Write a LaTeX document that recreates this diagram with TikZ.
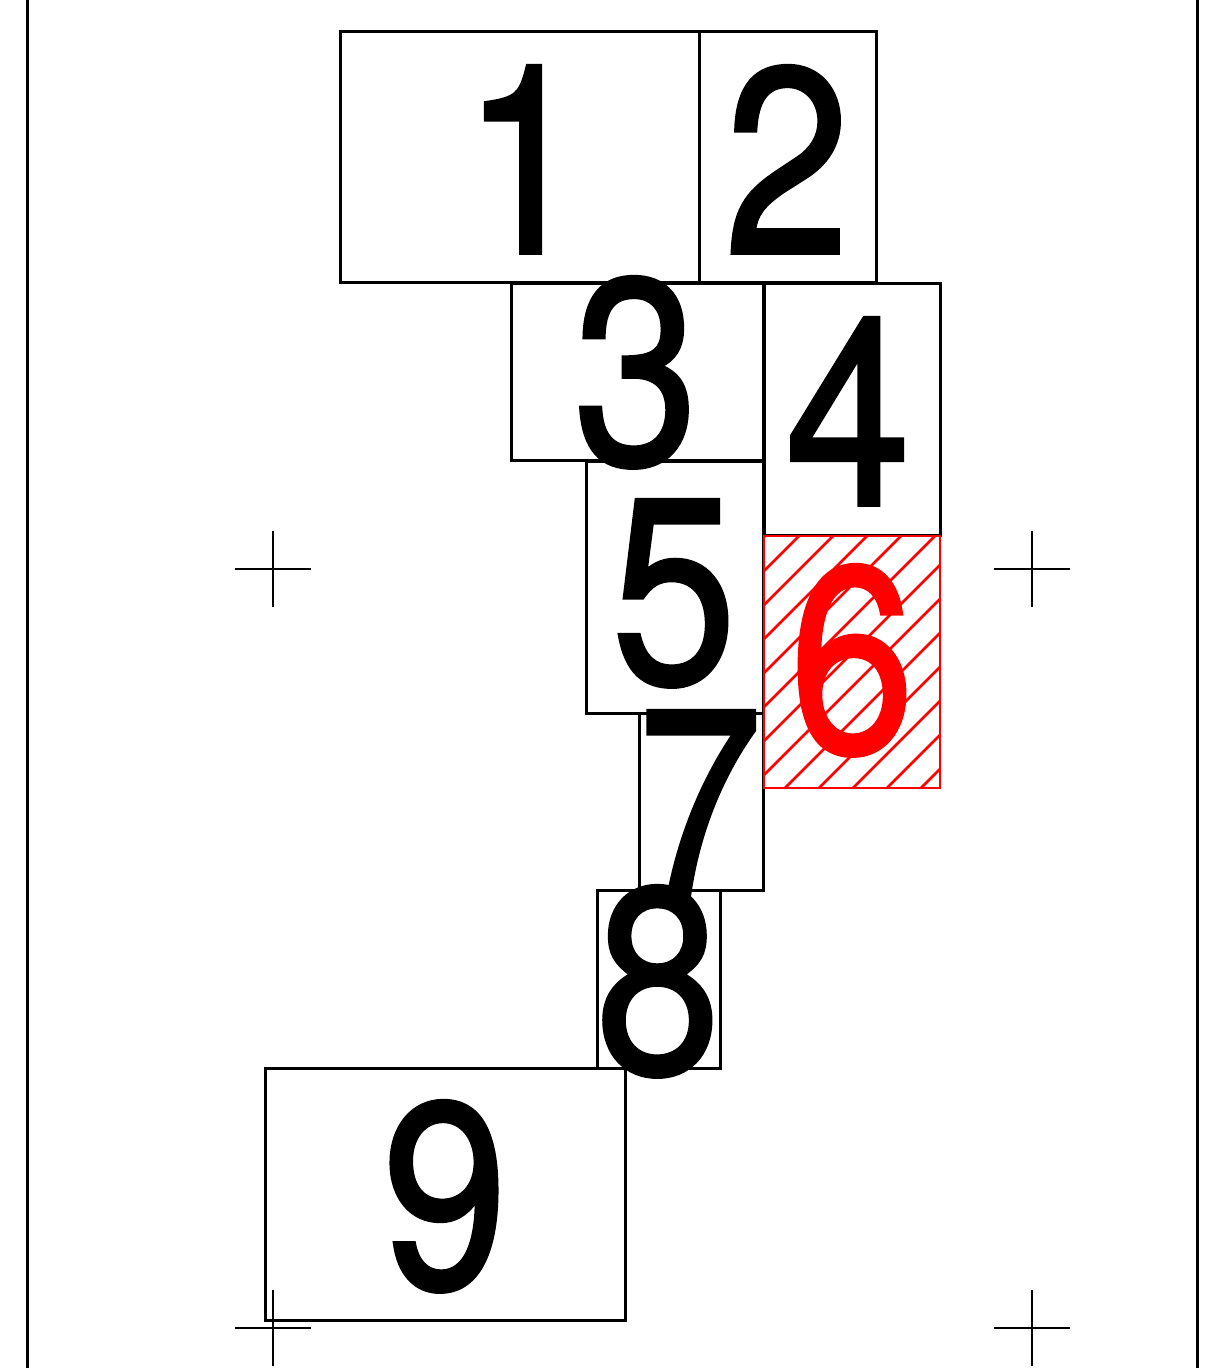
\documentclass[tikz,border=0pt]{standalone}
\usepackage{graphicx}
\usepackage{fontspec}
\setmainfont{TeX Gyre Heros}
\newfontfamily\digfont[FakeBold=1.5]{TeX Gyre Heros}
\newcommand{\dg}[1]{\scalebox{0.85}[1]{#1}}
\begin{document}
\begin{tikzpicture}[x=0.5pt,y=-0.5pt,
  boxframe/.style={draw=black,line width=1.5pt,inner sep=0pt,outer sep=0pt,line join=miter},
  redframe/.style={draw=red,line width=1.4pt,inner sep=0pt,outer sep=0pt},
  digit/.style={inner sep=0pt,outer sep=0pt,anchor=base,font=\digfont\fontsize{132}{140}\selectfont},
  rail/.style={line width=1.5pt},
  crossarm/.style={line width=0.7pt},
  hatchline/.style={draw=red,line width=1.3pt}]
\useasboundingbox (0,0) rectangle (1214,1368);
% outer rails
\coordinate (lt) at (27,0); \coordinate (lb) at (27,1368);
\coordinate (rt) at (1197,0); \coordinate (rb) at (1197,1368);
\draw[rail] (lt) -- (lb);
\draw[rail] (rt) -- (rb);
% crosshair marks
\foreach \n/\cx/\cy in {ca/273/569, cb/1032/569, cc/273/1328, cd/1032/1328}{
  \coordinate (\n) at (\cx,\cy);
  \draw[crossarm] ([xshift=-19pt]\n) -- ([xshift=19pt]\n);
  \draw[crossarm] ([yshift=19pt]\n) -- ([yshift=-19pt]\n);
}
% boxes
\draw[boxframe] (340,32) rectangle (699,283);
\draw[boxframe] (699,32) rectangle (876,283);
\draw[boxframe] (511,284) rectangle (763,461);
\draw[boxframe] (764,284) rectangle (940,535);
\draw[boxframe] (586,462) rectangle (763,713);
\draw[boxframe] (639,713) rectangle (763,890);
\draw[boxframe] (597,890) rectangle (720,1068);
\draw[boxframe] (265,1068) rectangle (625,1320);
% hatched box 6
\begin{scope}
  \clip (764,536) rectangle (940,788);
  \foreach \k in {0,...,12}{
    \pgfmathsetmacro{\c}{1301+34*\k}
    \draw[hatchline] (\c-480,480) -- (\c-840,840);
  }
\end{scope}
\draw[redframe] (764,536) rectangle (940,788);
% digits
\node[digit] (d1) at (525,253) {\dg{1}};
\node[digit] (d2) at (787,253) {\dg{2}};
\node[digit] (d3) at (636,464) {\dg{3}};
\node[digit] (d4) at (848,505) {\dg{4}};
\node[digit] (d5) at (674,683) {\dg{5}};
\node[digit,text=red] (d6) at (852,752) {\dg{6}};
\node[digit] (d7) at (700,894) {\dg{7}};
\node[digit] (d8) at (658,1073) {\dg{8}};
\node[digit] (d9) at (445,1288) {\dg{9}};
\end{tikzpicture}
\end{document}
